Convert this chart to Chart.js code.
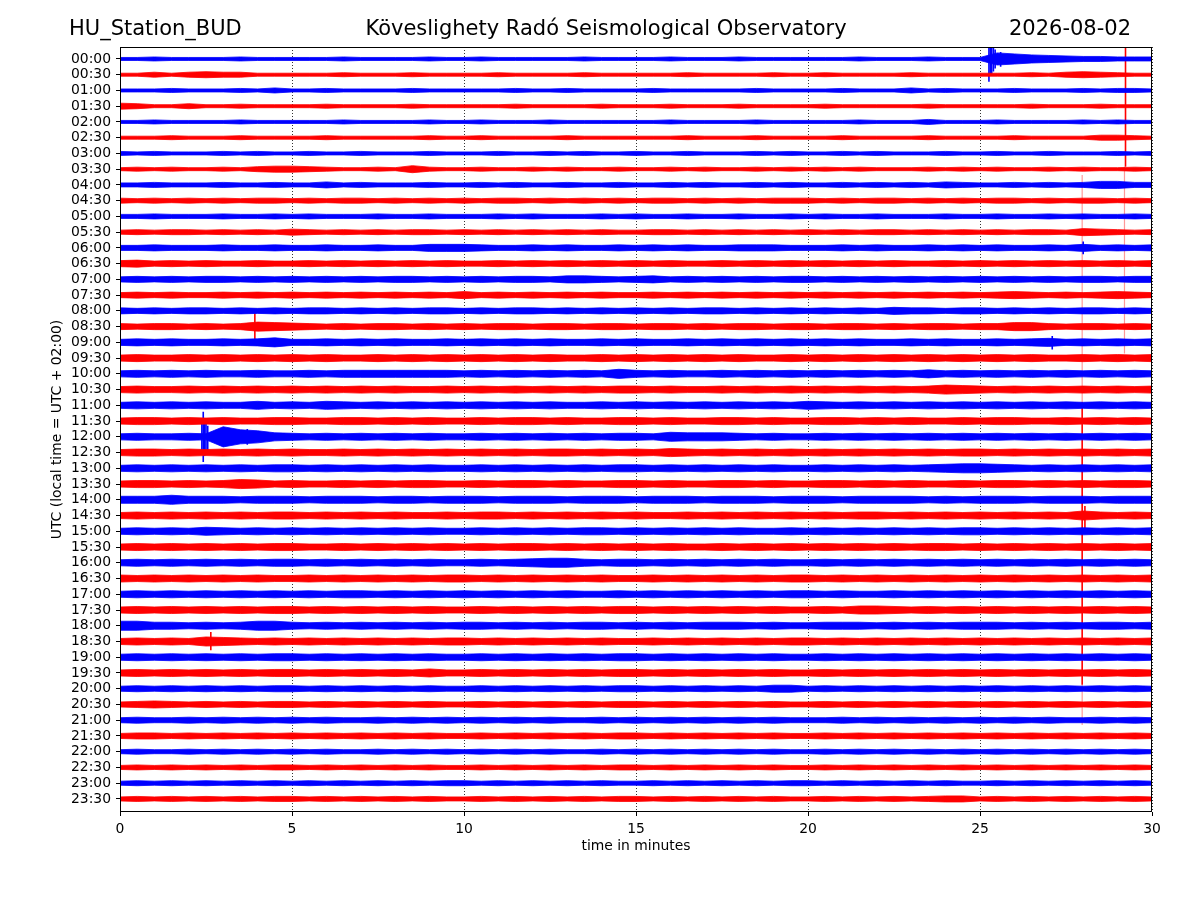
<!DOCTYPE html>
<html>
<head>
<meta charset="utf-8">
<title>HU_Station_BUD helicorder</title>
<script src="https://cdn.jsdelivr.net/npm/chart.js@4.4.1/dist/chart.umd.min.js"></script>
<style>
  body { margin: 0; background: #fff; }
  canvas { display: block; }
</style>
</head>
<body>
<canvas id="heli" width="1200" height="900"></canvas>
<script>
// row labels, one trace per half hour (top to bottom)
var traceLabels = [
  "00:00", "00:30", "01:00", "01:30", "02:00", "02:30", "03:00", "03:30",
  "04:00", "04:30", "05:00", "05:30", "06:00", "06:30", "07:00", "07:30",
  "08:00", "08:30", "09:00", "09:30", "10:00", "10:30", "11:00", "11:30",
  "12:00", "12:30", "13:00", "13:30", "14:00", "14:30", "15:00", "15:30",
  "16:00", "16:30", "17:00", "17:30", "18:00", "18:30", "19:00", "19:30",
  "20:00", "20:30", "21:00", "21:30", "22:00", "22:30", "23:00", "23:30",
];

var xTicks = [0, 5, 10, 15, 20, 25, 30];

// sample times (minutes into each half hour) for the envelopes below
var sampleMinutes = [
  0, 0.5, 1, 1.5, 2, 2.5, 3, 3.5, 4, 4.5, 5, 5.5, 6, 6.5, 7, 7.5, 8, 8.5, 9, 9.5,
  10, 10.5, 11, 11.5, 12, 12.5, 13, 13.5, 14, 14.5, 15, 15.5, 16, 16.5, 17, 17.5,
  18, 18.5, 19, 19.5, 20, 20.5, 21, 21.5, 22, 22.5, 23, 23.5, 24, 24.5, 25, 25.5,
  26, 26.5, 27, 27.5, 28, 28.5, 29, 29.5, 30,
];

// trace envelope (half amplitude) per sample, one base-36 digit each
var envelopes = [
  "3343333433" + "3334333343" + "3433333433" + "3343334333" + "3334333433" + "3ca87655444",
  "3353565533" + "3334333433" + "3343333433" + "3334333343" + "3433334333" + "33343565433",
  "3334333435" + "3343333433" + "3334334333" + "3433333433" + "3343335343" + "33433343443",
  "6533533433" + "3343333433" + "3334333343" + "3343334333" + "3433333433" + "33343334333",
  "3343333433" + "3334333343" + "3433343333" + "3343333433" + "3334333533" + "34333343433",
  "3334333433" + "3343333343" + "3433334333" + "3334333433" + "3343333433" + "33433335543",
  "4343334343" + "3433433343" + "3343343433" + "4334333434" + "3343433343" + "34334333434",
  "3434334356" + "6543343743" + "3433434334" + "3343433434" + "3434333434" + "34334343343",
  "4454445445" + "4464544454" + "4545445445" + "4454544545" + "4454545465" + "44545457755",
  "5454545455" + "4545545454" + "5455454545" + "4554545455" + "5454554545" + "45545455454",
  "4454445445" + "4544454454" + "4454544454" + "5445445445" + "4544544454" + "45445454454",
  "4545545454" + "6545454554" + "5454545454" + "4554545454" + "5454554545" + "45455476545",
  "5565556556" + "5565565577" + "7655656556" + "5656556665" + "5565655656" + "56556575656",
  "6756565565" + "5656565656" + "5565656565" + "6565565656" + "5656565565" + "65656565656",
  "5656566565" + "6565656656" + "5656657765" + "6756565656" + "6565656565" + "65656566566",
  "5656556565" + "6565656565" + "7565656565" + "5656565656" + "5656565656" + "56765656765",
  "6565665656" + "5665656566" + "5656656565" + "6565665656" + "5656576656" + "65656566565",
  "6566565698" + "7656566565" + "6566566566" + "5665656656" + "6566565665" + "66886566565",
  "6767667679" + "6676767667" + "6767676676" + "7667676767" + "6767667676" + "67678676767",
  "6766767676" + "7676676767" + "6767676676" + "7676767667" + "6767676767" + "67676676767",
  "6767676676" + "6767777777" + "6767676769" + "7676676767" + "6767676867" + "67676767676",
  "6766767676" + "7676767667" + "6767676767" + "7676676767" + "6767676798" + "76767676767",
  "6767676686" + "7687676767" + "6767676676" + "7676767676" + "8767676767" + "67676767676",
  "6776767667" + "7667767676" + "6767767667" + "7676677676" + "6776767667" + "67766767676",
  "676676kec8" + "7676767676" + "6767676767" + "7698887676" + "6767676767" + "67676767676",
  "6776767676" + "7667676767" + "6767677676" + "7687676767" + "6767676767" + "76767676767",
  "6767676767" + "7676767676" + "6767676767" + "7676767676" + "6767676789" + "98767676767",
  "6776767986" + "7667676776" + "6767767667" + "7676677676" + "6776767667" + "67767676776",
  "7779777677" + "7677767767" + "7767776777" + "6777677767" + "7767777676" + "77767776777",
  "6767676767" + "7676767667" + "6776767676" + "7667676767" + "6767767676" + "76767697676",
  "6767687676" + "7676767676" + "6767676776" + "7676767667" + "6767676767" + "76767676767",
  "6767676767" + "7667676767" + "6767767676" + "7676676767" + "6767676776" + "76767676767",
  "6767676767" + "7676767676" + "6767899767" + "7676767676" + "6767676767" + "67676767676",
  "7676767676" + "6767676767" + "7676767676" + "6767676767" + "7676767676" + "76767676767",
  "6767676767" + "6767767676" + "7676767667" + "6767676767" + "7676676767" + "67676767676",
  "6767676767" + "7676767676" + "6767676767" + "7676767676" + "6768876767" + "67676767676",
  "9977676799" + "7676767676" + "7767676776" + "7676777676" + "6777676767" + "77676767767",
  "6767698767" + "6767676767" + "7676767676" + "6767676767" + "7676767676" + "76767676767",
  "6767676767" + "7676767676" + "6767676767" + "7676767676" + "6767676767" + "67676767676",
  "6767676767" + "7676767686" + "6767676767" + "7676767676" + "6767676767" + "67676767676",
  "5656565656" + "6565656565" + "5656565656" + "6565656577" + "5656565656" + "56565656565",
  "5676565656" + "6565656565" + "5656565656" + "6565656565" + "5656565656" + "56565656565",
  "5655656565" + "6565565656" + "5656565565" + "6565656565" + "5565656565" + "65656556565",
  "5665656565" + "6565656565" + "5656565656" + "6565656565" + "5656565656" + "56565656565",
  "4544545454" + "5454454545" + "4545454454" + "5454545454" + "4545454545" + "45454545454",
  "4545454545" + "5454545454" + "4545454545" + "5454545454" + "4545454545" + "45454545454",
  "4545454545" + "4545454545" + "5454545454" + "4545454545" + "5454545454" + "45454545454",
  "4545454545" + "5454545454" + "4545454545" + "5454545454" + "4545454566" + "45454545454",
];

// large excursions: owning trace, minute, top and bottom reach (in trace rows)
var spikeTrace  = [0, 0, 0, 0, 0, 0, 5, 29, 29, 17, 24, 24, 24, 24, 24, 24, 37, 18, 12];
var spikeMinute = [25.26, 25.3, 25.34, 25.39, 25.44, 25.6, 29.23, 27.97, 28.05, 3.92,
                   2.38, 2.42, 2.46, 2.5, 2.55, 3.7, 2.64, 27.1, 28.0];
var spikeTop    = [-1.5, -1.5, -0.9, -0.75, -0.6, -0.45, -1.5, 21.8, 28.4, 16.07,
                   23.1, 22.4, 22.9, 23.0, 23.3, 23.5, 36.4, 17.6, 11.6];
var spikeBottom = [1.45, 0.95, 1.0, 0.8, 0.6, 0.5, 6.85, 39.75, 29.8, 17.78,
                   25.0, 25.6, 25.2, 25.1, 24.9, 24.5, 37.55, 18.45, 12.4];

// thin tails of the two big excursions
var tailTrace  = [5, 29, 29];
var tailMinute = [29.2, 27.97, 27.97];
var tailTop    = [6.85, 7.37, 39.75];
var tailBottom = [18.7, 21.8, 42.3];

var AMP = 0.032; // rows per envelope digit
var BLUE = "#0000ff";
var RED = "#ff0000";

var traceColor = function (i) {
  return i % 2 === 0 ? BLUE : RED;
};

var datasets = [];

traceLabels.forEach(function (lab, i) {
  var env = envelopes[i];
  var upper = [];
  var lower = [];
  for (var k = 0; k < sampleMinutes.length; k++) {
    var a = parseInt(env[k], 36) * AMP;
    upper.push({ x: sampleMinutes[k], y: i - a });
    lower.push({ x: sampleMinutes[k], y: i + a });
  }
  var col = traceColor(i);
  datasets.push({
    label: lab,
    data: upper,
    borderColor: col,
    borderWidth: 0.8,
    pointRadius: 0,
    fill: false,
  });
  datasets.push({
    label: lab,
    data: lower,
    borderColor: col,
    backgroundColor: col,
    borderWidth: 0.8,
    pointRadius: 0,
    fill: "-1",
  });
});

spikeTrace.forEach(function (tr, j) {
  datasets.push({
    data: [
      { x: spikeMinute[j], y: spikeTop[j] },
      { x: spikeMinute[j], y: spikeBottom[j] },
    ],
    borderColor: traceColor(tr),
    borderWidth: 1.6,
    pointRadius: 0,
    fill: false,
  });
});

tailTrace.forEach(function (tr, j) {
  datasets.push({
    data: [
      { x: tailMinute[j], y: tailTop[j] },
      { x: tailMinute[j], y: tailBottom[j] },
    ],
    borderColor: tr % 2 === 0 ? "rgba(0,0,255,0.4)" : "rgba(255,0,0,0.4)",
    borderWidth: 1.2,
    pointRadius: 0,
    fill: false,
  });
});

// header texts and plot frame
var heliDecor = {
  id: "heliDecor",
  afterDatasetsDraw: function (chart) {
    var ctx = chart.ctx;
    var a = chart.chartArea;
    ctx.save();
    ctx.strokeStyle = "#000";
    ctx.lineWidth = 1;
    ctx.strokeRect(a.left + 0.5, a.top + 0.5, a.right - a.left - 1, a.bottom - a.top - 1);
    ctx.restore();
  },
  afterDraw: function (chart) {
    var ctx = chart.ctx;
    ctx.save();
    ctx.fillStyle = "#000";
    ctx.font = "21px 'DejaVu Sans'";
    ctx.textBaseline = "middle";
    ctx.textAlign = "left";
    ctx.fillText("HU_Station_BUD", 69, 30);
    ctx.textAlign = "center";
    ctx.fillText("Köveslighety Radó Seismological Observatory", 606, 30);
    ctx.textAlign = "right";
    ctx.fillText("2026-08-02", 1131, 30);
    ctx.restore();
  },
};

var tickFont = { family: "'DejaVu Sans'", size: 13.9 };

new Chart(document.getElementById("heli").getContext("2d"), {
  type: "line",
  data: { datasets: datasets },
  options: {
    responsive: false,
    animation: false,
    devicePixelRatio: 1,
    parsing: false,
    normalized: true,
    layout: { padding: { left: 45, right: 48, top: 47, bottom: 41 } },
    plugins: {
      legend: { display: false },
      tooltip: { enabled: false },
    },
    scales: {
      x: {
        type: "linear",
        min: 0,
        max: 30,
        afterFit: function (scale) {
          scale.height = 47;
        },
        afterBuildTicks: function (scale) {
          scale.ticks = xTicks.map(function (v) {
            return { value: v };
          });
        },
        ticks: { color: "#000", font: tickFont, padding: 5, maxRotation: 0 },
        grid: {
          color: "#000",
          lineWidth: 0.8,
          tickLength: 4,
          tickColor: "#000",
          tickWidth: 1,
        },
        border: { display: false, dash: [1, 2] },
        title: {
          display: true,
          text: "time in minutes",
          color: "#000",
          font: tickFont,
        },
      },
      y: {
        type: "linear",
        reverse: true,
        min: -0.76,
        max: 47.83,
        afterFit: function (scale) {
          scale.width = 75;
        },
        afterBuildTicks: function (scale) {
          scale.ticks = traceLabels.map(function (_, i) {
            return { value: i };
          });
        },
        ticks: {
          color: "#000",
          font: tickFont,
          padding: 5,
          autoSkip: false,
          callback: function (v) {
            return traceLabels[v] || "";
          },
        },
        grid: {
          drawOnChartArea: false,
          tickLength: 4,
          tickColor: "#000",
          tickWidth: 1,
        },
        border: { display: false },
        title: {
          display: true,
          text: "UTC (local time = UTC + 02:00)",
          color: "#000",
          font: tickFont,
        },
      },
    },
  },
  plugins: [heliDecor],
});
</script>
</body>
</html>
